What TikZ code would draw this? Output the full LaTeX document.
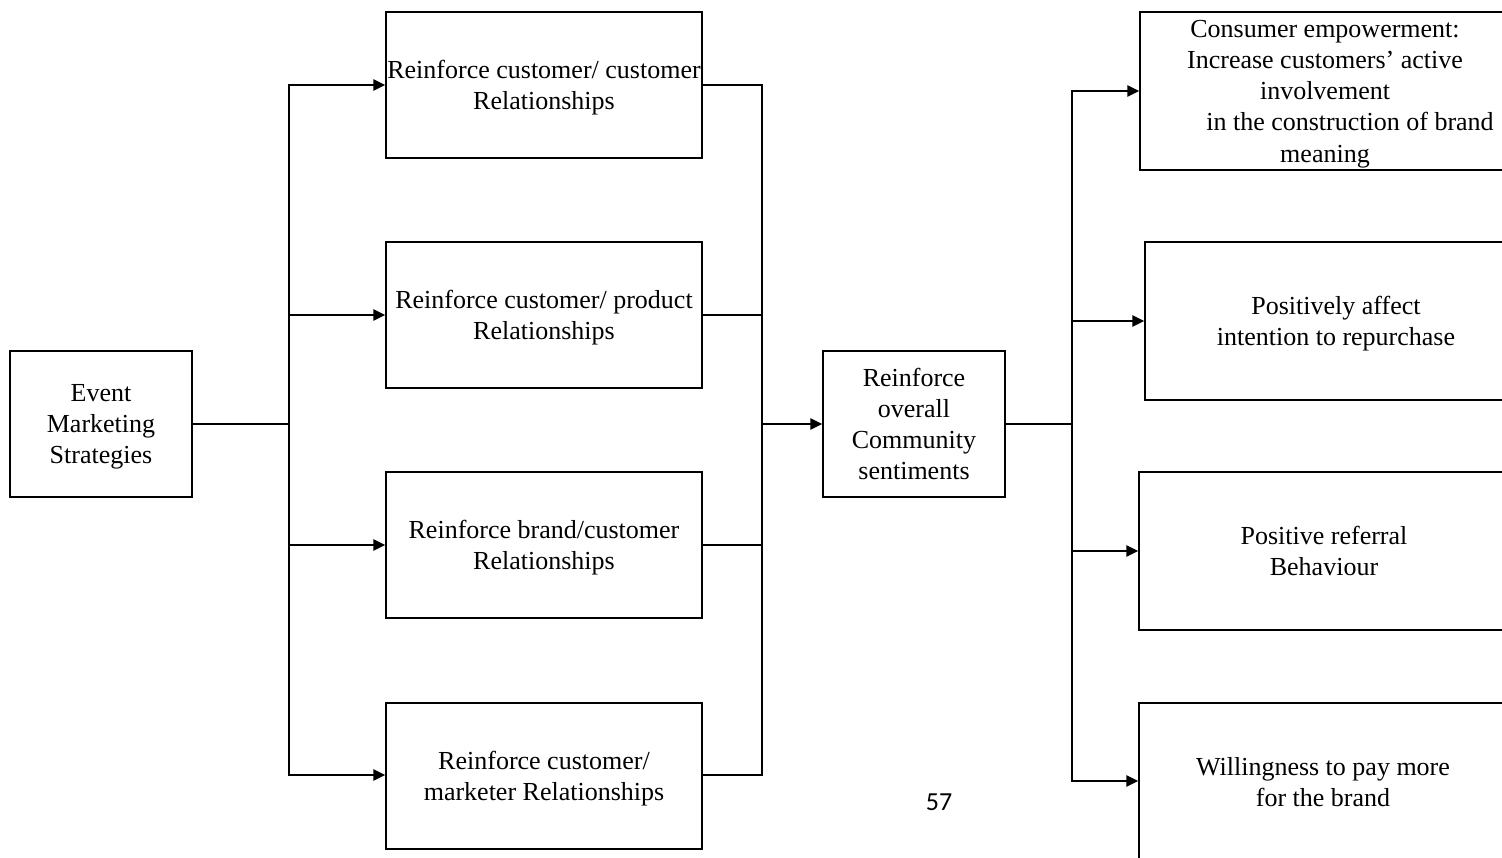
\documentclass[tikz,border=0pt]{standalone}
\usepackage{fontspec}
\setmainfont{Liberation Serif}
\newfontfamily\pagenumfont{Carlito}
\usetikzlibrary{arrows.meta}
\begin{document}
\begin{tikzpicture}[x=1pt,y=-1pt,
  box/.style={draw, line width=1.3pt, inner sep=0pt, align=center, text depth=0pt,
    font=\fontsize{26}{31.2}\selectfont},
  conn/.style={line width=2.6pt, line cap=rect},
  arr/.style={line width=2.6pt, -{Triangle[length=12pt,width=11pt]}}]
\clip (0,0) rectangle (1502,857);
\fill[white] (0,0) rectangle (1502,857);
% left
\node[box, minimum width=182pt, minimum height=146pt] (ems) at (101,424) {Event\\Marketing\\Strategies};
% middle column
\node[box, minimum width=316pt, minimum height=146pt] (m1) at (544,85) {Reinforce customer/ customer\\Relationships};
\node[box, minimum width=316pt, minimum height=146pt] (m2) at (544,315) {Reinforce customer/ product\\Relationships};
\node[box, minimum width=316pt, minimum height=146pt] (m3) at (544,545) {Reinforce brand/customer\\Relationships};
\node[box, minimum width=316pt, minimum height=146pt] (m4) at (544,776) {Reinforce customer/\\marketer Relationships};
% centre
\node[box, minimum width=182pt, minimum height=146pt] (cs) at (914,424) {Reinforce\\overall\\Community\\sentiments};
% right column
\node[box, minimum width=370pt, minimum height=158pt] (r1) at (1325,91) {Consumer empowerment:\\Increase customers’ active\\involvement\\\hspace*{50pt}in the construction of brand\\meaning};
\node[box, minimum width=382pt, minimum height=158pt] (r2) at (1336,321) {Positively affect\\intention to repurchase};
\node[box, minimum width=370pt, minimum height=158pt] (r3) at (1324,551) {Positive referral\\Behaviour};
\node[box, minimum width=368pt, minimum height=158pt] (r4) at (1323,782) {Willingness to pay more\\for the brand};
% page number
\node[font=\pagenumfont\fontsize{26}{31}\selectfont, inner sep=0pt] (pg) at (939,802) {57};
% junction coordinates
\coordinate (ja) at (289,85);
\coordinate (jd) at (289,775);
\coordinate (ka) at (762,85);
\coordinate (kd) at (762,775);
\coordinate (la) at (1072,91);
\coordinate (ld) at (1072,781);
% left fan-out
\draw[conn] (ems.east) -- (ems.east -| ja);
\draw[conn] (ja) -- (jd);
\draw[arr] (ja) -- (m1.west);
\draw[arr] (m2.west -| ja) -- (m2.west);
\draw[arr] (m3.west -| ja) -- (m3.west);
\draw[arr] (jd) -- (m4.west |- jd);
% middle fan-in
\draw[conn] (m1.east) -- (m1.east -| ka);
\draw[conn] (m2.east) -- (m2.east -| ka);
\draw[conn] (m3.east) -- (m3.east -| ka);
\draw[conn] (m4.east |- kd) -- (kd);
\draw[conn] (ka) -- (kd);
\draw[arr] (cs.west -| ka) -- (cs.west);
% right fan-out
\draw[conn] (cs.east) -- (cs.east -| la);
\draw[conn] (la) -- (ld);
\draw[arr] (la) -- (r1.west);
\draw[arr] (r2.west -| la) -- (r2.west);
\draw[arr] (r3.west -| la) -- (r3.west);
\draw[arr] (ld) -- (r4.west |- ld);
\end{tikzpicture}
\end{document}
